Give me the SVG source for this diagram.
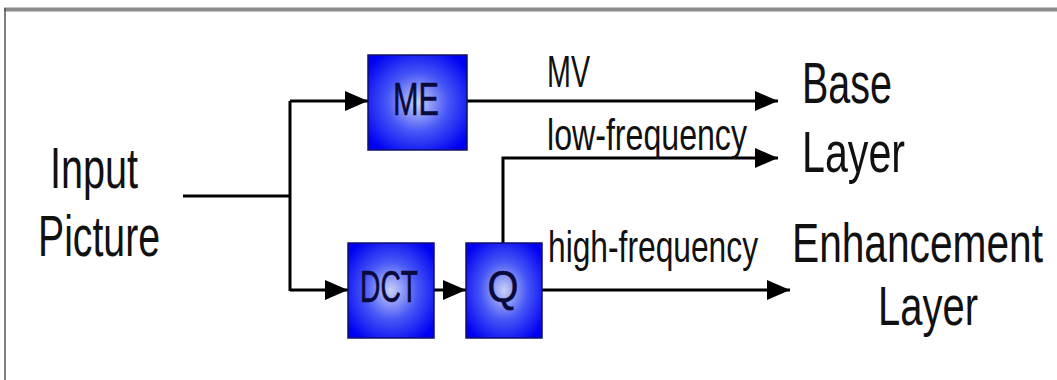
<svg xmlns="http://www.w3.org/2000/svg" width="1057" height="380" viewBox="0 0 1057 380">
  <defs>
    <radialGradient id="boxgrad" cx="50%" cy="50%" r="62%">
      <stop offset="0" stop-color="#c8d0f6"/>
      <stop offset="0.5" stop-color="#4656f6"/>
      <stop offset="1" stop-color="#0000f2"/>
    </radialGradient>
    <marker id="arrow" markerUnits="userSpaceOnUse" markerWidth="24" markerHeight="22" refX="23" refY="11" orient="auto">
      <path d="M0,1 L23,11 L0,21 z" fill="#000"/>
    </marker>
  </defs>
  <style>
    .box { fill: url(#boxgrad); stroke: #10106a; stroke-width: 1.5; }
    .boxtxt { font-family: "Liberation Sans", Arial, sans-serif; fill: #0a0a3a; stroke: #0a0a3a; stroke-width: 0.6; text-anchor: middle; }
    .lbl { font-family: "Liberation Sans", Arial, sans-serif; fill: #111; }
    .conn { fill: none; stroke: #000; stroke-width: 3; }
  </style>
  <rect x="0" y="0" width="1057" height="380" fill="#fff"/>
  <line x1="4" y1="9.5" x2="1057" y2="9.5" stroke="#8a8a8a" stroke-width="4"/>
  <line x1="5" y1="8" x2="5" y2="380" stroke="#555" stroke-width="1.5"/>

  <g id="connectors">
    <path class="conn" d="M183,196 H290"/>
    <path class="conn" d="M290,101 V291"/>
    <path class="conn" d="M290,101 H368" marker-end="url(#arrow)"/>
    <path class="conn" d="M290,290 H348" marker-end="url(#arrow)"/>
    <path class="conn" d="M434,290 H466" marker-end="url(#arrow)"/>
    <path class="conn" d="M467,101 H778" marker-end="url(#arrow)"/>
    <path class="conn" d="M542,290 H790" marker-end="url(#arrow)"/>
    <path class="conn" d="M503,243 V158 H778" marker-end="url(#arrow)"/>
  </g>

  <g id="node-input">
    <text class="lbl" x="50" y="188" font-size="58" textLength="88" lengthAdjust="spacingAndGlyphs">Input</text>
    <text class="lbl" x="38" y="256" font-size="57" textLength="122" lengthAdjust="spacingAndGlyphs">Picture</text>
  </g>
  <g id="node-me">
    <rect class="box" x="368" y="55" width="99" height="95"/>
    <text class="boxtxt" x="416" y="115" font-size="46" textLength="46" lengthAdjust="spacingAndGlyphs">ME</text>
  </g>
  <g id="node-dct">
    <rect class="box" x="348" y="243" width="86" height="95"/>
    <text class="boxtxt" x="389" y="302" font-size="45" textLength="58" lengthAdjust="spacingAndGlyphs">DCT</text>
  </g>
  <g id="node-q">
    <rect class="box" x="466" y="243" width="76" height="95"/>
    <text class="boxtxt" x="503" y="302" font-size="45" textLength="31" lengthAdjust="spacingAndGlyphs">Q</text>
  </g>
  <g id="labels">
    <text class="lbl" x="547" y="87" font-size="44" textLength="43" lengthAdjust="spacingAndGlyphs">MV</text>
    <text class="lbl" x="547" y="150" font-size="44" textLength="200" lengthAdjust="spacingAndGlyphs">low-frequency</text>
    <text class="lbl" transform="translate(548,262) scale(0.72,1)" x="0" y="0" font-size="44" textLength="291.7" lengthAdjust="spacingAndGlyphs">high-frequency</text>
  </g>
  <g id="node-base">
    <text class="lbl" x="802" y="103" font-size="57" textLength="90" lengthAdjust="spacingAndGlyphs">Base</text>
    <text class="lbl" x="802" y="172" font-size="57" textLength="103" lengthAdjust="spacingAndGlyphs">Layer</text>
  </g>
  <g id="node-enh">
    <text class="lbl" transform="translate(792,262) scale(0.74,1)" x="0" y="0" font-size="55" textLength="339.2" lengthAdjust="spacingAndGlyphs">Enhancement</text>
    <text class="lbl" x="878" y="325" font-size="55" textLength="100" lengthAdjust="spacingAndGlyphs">Layer</text>
  </g>
</svg>
